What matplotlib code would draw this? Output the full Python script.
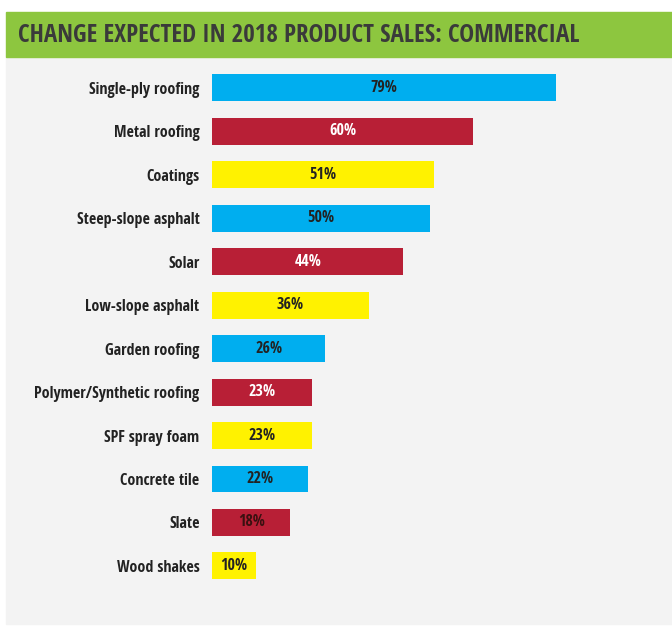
import matplotlib.pyplot as plt
from matplotlib.patches import Rectangle

# Survey results, top to bottom
products = ['Single-ply roofing', 'Metal roofing', 'Coatings', 'Steep-slope asphalt',
            'Solar', 'Low-slope asphalt', 'Garden roofing', 'Polymer/Synthetic roofing',
            'SPF spray foam', 'Concrete tile', 'Slate', 'Wood shakes']
pct = [79, 60, 51, 50, 44, 36, 26, 23, 23, 22, 18, 10]

blue = '#00aeef'
red = '#b81f36'
yellow = '#fff200'
bar_colors = [blue, red, yellow] * 4
text_colors = ['#222222', 'white', '#222222', '#222222', 'white', '#222222',
               '#222222', 'white', '#222222', '#222222', '#3a1010', '#222222']

font = ['Open Sans Condensed', 'Roboto Condensed', 'DejaVu Sans']
W, H = 672, 629

fig = plt.figure(figsize=(W / 100, H / 100), dpi=100, facecolor='white')

# gray panel and green title strip
fig.patches.append(Rectangle((6 / W, 1 - 624 / H), 1, (624 - 57) / H,
                             transform=fig.transFigure, color='#f3f3f3', zorder=-2))
fig.patches.append(Rectangle((6 / W, 1 - 57 / H), 1, 45 / H,
                             transform=fig.transFigure, color='#8dc63f', zorder=-1))
fig.text(18 / W, 1 - 35 / H, 'CHANGE EXPECTED IN 2018 PRODUCT SALES: COMMERCIAL',
         family=font, fontsize=18, fontweight='bold', color='#3a3a3a',
         ha='left', va='center')

ax = fig.add_axes([212 / W, (H - 587.6) / H, 435 / W, 521.4 / H])
ax.set_facecolor('none')
y = range(len(products))
ax.barh(y, pct, height=0.62, color=bar_colors)
ax.set_xlim(0, 100)
ax.set_ylim(len(products) - 0.5, -0.5)

for i, v in enumerate(pct):
    ax.text(v / 2, i, f'{v}%', ha='center', va='center', family=font,
            fontsize=11.5, fontweight='bold', color=text_colors[i])

ax.set_yticks(list(y))
ax.set_yticklabels(products, family=font, fontsize=11.5, fontweight='bold', color='#222222')
ax.tick_params(axis='y', length=0, pad=9)
ax.set_xticks([])
for s in ax.spines.values():
    s.set_visible(False)

fig.savefig('out.png', dpi=100, facecolor=fig.get_facecolor())
